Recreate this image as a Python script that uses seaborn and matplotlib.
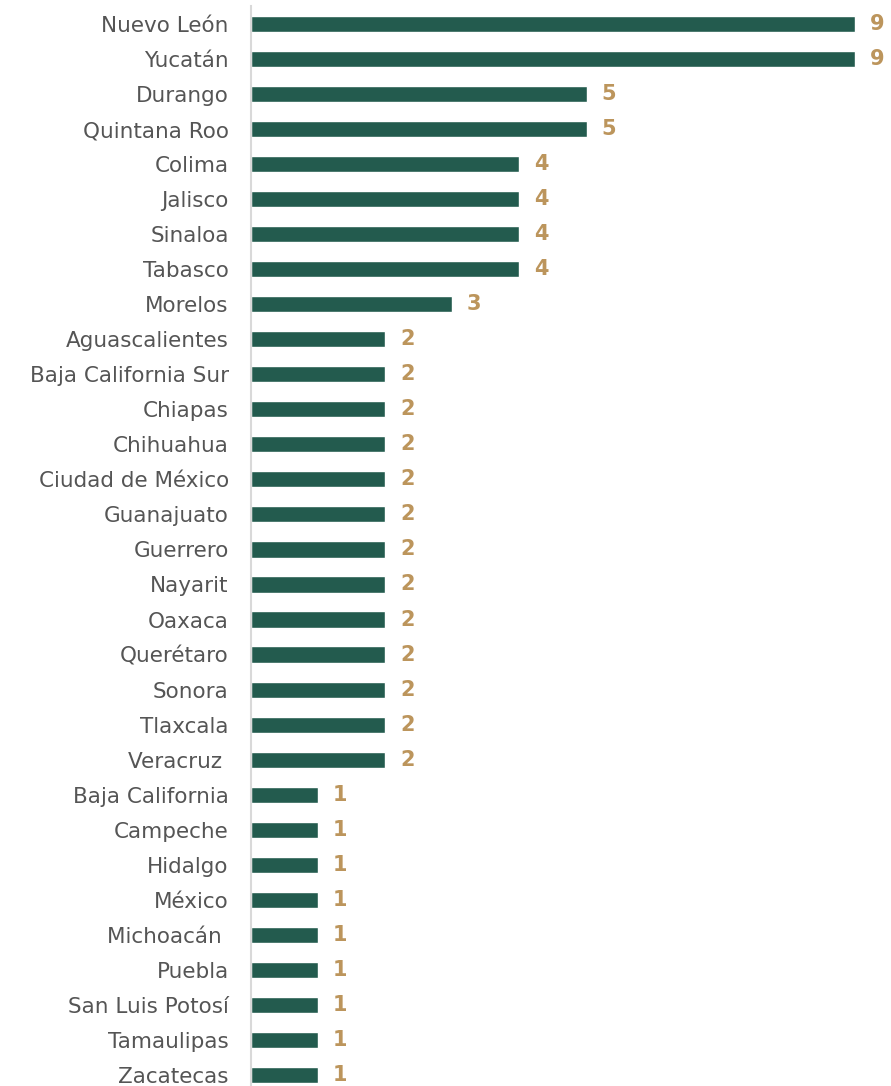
import matplotlib
matplotlib.use("Agg")
import matplotlib.pyplot as plt
import seaborn as sns
import pandas as pd

states = ["Nuevo León", "Yucatán", "Durango", "Quintana Roo", "Colima", "Jalisco",
          "Sinaloa", "Tabasco", "Morelos", "Aguascalientes", "Baja California Sur",
          "Chiapas", "Chihuahua", "Ciudad de México", "Guanajuato", "Guerrero",
          "Nayarit", "Oaxaca", "Querétaro", "Sonora", "Tlaxcala", "Veracruz ",
          "Baja California", "Campeche", "Hidalgo", "México", "Michoacán ",
          "Puebla", "San Luis Potosí", "Tamaulipas", "Zacatecas"]
values = [9, 9, 5, 5, 4, 4, 4, 4, 3, 2, 2, 2, 2, 2, 2, 2, 2, 2, 2, 2, 2, 2,
          1, 1, 1, 1, 1, 1, 1, 1, 1]

df = pd.DataFrame({"estado": states, "valor": values})

sns.set_style("white")
plt.rcParams["font.family"] = ["DejaVu Sans"]

fig = plt.figure(figsize=(8.91, 10.86), dpi=100)
ax = fig.add_axes([251 / 891, 0.0, 640 / 891, (1086 - 6.5) / 1086])

sns.barplot(data=df, y="estado", x="valor", orient="h", color="#235B4E",
            saturation=1, width=0.46, ax=ax)

ax.set_xlim(0, 640 / 67.1)
ax.set_ylim(-0.5 + 1079.5 / 35.03, -0.5)

for i, v in enumerate(values):
    ax.text(v + 0.22, i, str(v), va="center", ha="left", color="#BC955C",
            fontsize=15, fontweight="bold")

ax.set_xlabel("")
ax.set_ylabel("")
ax.set_xticks([])
ax.tick_params(axis="y", length=0, pad=16, labelsize=15.5, labelcolor="#555555")
for s in ["top", "right", "bottom"]:
    ax.spines[s].set_visible(False)
ax.spines["left"].set_color("#D9D9D9")
ax.spines["left"].set_linewidth(1.5)

fig.savefig("out.png", dpi=100)
